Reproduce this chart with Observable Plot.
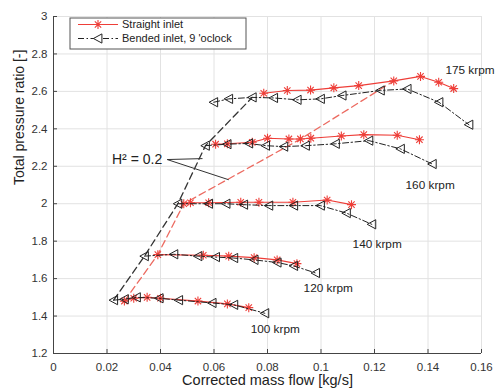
<!DOCTYPE html>
<html>
<head>
<meta charset="utf-8">
<script src="https://cdn.jsdelivr.net/npm/d3@7"></script>
<script src="https://cdn.jsdelivr.net/npm/@observablehq/plot@0.6"></script>
<style>
  html, body { margin: 0; padding: 0; background: #fff; }
  #chart { width: 495px; height: 392px; }
</style>
</head>
<body>
<div id="chart"></div>
<script>
// ---- data ----
const speeds = ["100 krpm", "120 krpm", "140 krpm", "160 krpm", "175 krpm"];

const straightFlow = [
  [0.0265, 0.030, 0.035, 0.040, 0.054, 0.065, 0.073],
  [0.039, 0.056, 0.0655, 0.075, 0.0836, 0.091],
  [0.0487, 0.0512, 0.058, 0.070, 0.0768, 0.0895, 0.1023, 0.1114],
  [0.0606, 0.065, 0.0743, 0.080, 0.088, 0.0923, 0.0962, 0.1076, 0.116, 0.1285, 0.1368],
  [0.0786, 0.0874, 0.0961, 0.1048, 0.1141, 0.1272, 0.1372, 0.144, 0.1496]
];
const straightPR = [
  [1.48, 1.495, 1.50, 1.495, 1.48, 1.465, 1.445],
  [1.728, 1.725, 1.72, 1.712, 1.70, 1.68],
  [2.0, 2.005, 2.005, 2.008, 2.008, 2.008, 2.02, 1.995],
  [2.318, 2.32, 2.328, 2.35, 2.346, 2.346, 2.35, 2.362, 2.369, 2.366, 2.342],
  [2.59, 2.605, 2.607, 2.619, 2.631, 2.656, 2.68, 2.649, 2.615]
];

const bendedFlow = [
  [0.0225, 0.0265, 0.031, 0.0395, 0.0468, 0.0593, 0.0674, 0.079],
  [0.034, 0.045, 0.054, 0.0606, 0.0674, 0.075, 0.0836, 0.0898, 0.098],
  [0.0465, 0.058, 0.0645, 0.0711, 0.0805, 0.0898, 0.0998, 0.1095, 0.119],
  [0.0568, 0.0649, 0.073, 0.0793, 0.0861, 0.0942, 0.1054, 0.1179, 0.1297, 0.1416],
  [0.0599, 0.0655, 0.0743, 0.0823, 0.0911, 0.0998, 0.1079, 0.1222, 0.1322, 0.1441, 0.1553]
];
const bendedPR = [
  [1.485, 1.49, 1.50, 1.495, 1.485, 1.47, 1.46, 1.415],
  [1.72, 1.73, 1.72, 1.715, 1.71, 1.70, 1.686, 1.668, 1.63],
  [2.0, 2.0, 2.0, 1.995, 1.99, 1.99, 1.99, 1.95, 1.89],
  [2.31, 2.318, 2.322, 2.31, 2.305, 2.31, 2.32, 2.337, 2.293, 2.212],
  [2.542, 2.56, 2.568, 2.565, 2.555, 2.56, 2.578, 2.605, 2.613, 2.542, 2.422]
];

// surge lines
const surgeStraightFlow = [0.0265, 0.039, 0.0487, 0.0923, 0.1272];
const surgeStraightPR   = [1.48, 1.728, 2.0, 2.345, 2.656];
const surgeBendedFlow   = [0.0225, 0.034, 0.0465, 0.0568, 0.0743];
const surgeBendedPR     = [1.485, 1.72, 2.0, 2.31, 2.568];

// speed label anchors (data coords)
const labelFlow = [0.0737, 0.0935, 0.1118, 0.1316, 0.1465];
const labelPR   = [1.332, 1.551, 1.786, 2.10, 2.711];

// H^2 annotation
const annotText = "H² = 0.2";
const annotFrom = [0.0425, 2.236];
const annotToFlow = [0.0557, 0.0655];
const annotToPR   = [2.241, 2.128];

const xTicks = [0, 0.02, 0.04, 0.06, 0.08, 0.1, 0.12, 0.14, 0.16];
const yTicks = [1.2, 1.4, 1.6, 1.8, 2, 2.2, 2.4, 2.6, 2.8, 3];
const xTickLabels = ["0", "0.02", "0.04", "0.06", "0.08", "0.1", "0.12", "0.14", "0.16"];
const yTickLabels = ["1.2", "1.4", "1.6", "1.8", "2", "2.2", "2.4", "2.6", "2.8", "3"];

const legendLabels = ["Straight inlet", "Bended inlet, 9 'oclock"];

// ---- build rows ----
function rows(flows, prs) {
  const out = [];
  flows.forEach((fs, i) => fs.forEach((f, j) => out.push({speed: speeds[i], flow: f, pr: prs[i][j]})));
  return out;
}
const straightRows = rows(straightFlow, straightPR);
const bendedRows = rows(bendedFlow, bendedPR);
const surgeS = surgeStraightFlow.map((f, i) => ({flow: f, pr: surgeStraightPR[i]}));
const surgeB = surgeBendedFlow.map((f, i) => ({flow: f, pr: surgeBendedPR[i]}));
const labels = speeds.map((s, i) => ({text: s, flow: labelFlow[i], pr: labelPR[i]}));
const annotLinks = annotToFlow.map((f, i) => ({x1: annotFrom[0], y1: annotFrom[1], x2: f, y2: annotToPR[i]}));

// ---- custom symbols ----
const triLeft = {
  draw(ctx, size) {
    const r = Math.sqrt(size / Math.PI);
    ctx.moveTo(-r, 0);
    ctx.lineTo(r * 0.85, -r);
    ctx.lineTo(r * 0.85, r);
    ctx.closePath();
  }
};
const star8 = {
  draw(ctx, size) {
    const r = Math.sqrt(size / Math.PI);
    for (let k = 0; k < 4; k++) {
      const a = k * Math.PI / 4;
      ctx.moveTo(r * Math.cos(a), r * Math.sin(a));
      ctx.lineTo(-r * Math.cos(a), -r * Math.sin(a));
    }
  }
};

const RED = "#ee3e38";
const RED_LIGHT = "#ec6a60";
const BLACK = "#222";
const TXT = "#333";

const yPerPx = (3 - 1.2) / (392 - 16 - 39);
const xTickLen = 4 * yPerPx;
const xPerPx = 0.16 / (495 - 53 - 14);
const yTickLen = 4 * xPerPx;

const plot = Plot.plot({
  width: 495,
  height: 392,
  marginLeft: 53,
  marginRight: 14,
  marginTop: 16,
  marginBottom: 39,
  x: {domain: [0, 0.16]},
  y: {domain: [1.2, 3]},
  style: {fontFamily: "'Liberation Sans', Arial, Helvetica, sans-serif", fontSize: "11px", background: "#fff", color: TXT},
  marks: [
    Plot.gridX(xTicks, {stroke: "#e2e2e2", strokeOpacity: 1}),
    Plot.gridY(yTicks, {stroke: "#e2e2e2", strokeOpacity: 1}),
    Plot.ruleY([1.2], {stroke: "#444"}),
    Plot.ruleX([0], {stroke: "#444"}),
    Plot.ruleX(xTicks, {x: d => d, y1: 1.2, y2: 1.2 + xTickLen, stroke: "#444"}),
    Plot.ruleY(yTicks, {y: d => d, x1: 0, x2: yTickLen, stroke: "#444"}),
    Plot.axisX(xTicks, {tickSize: 0, tickPadding: 9, tickFormat: (d, i) => xTickLabels[i], fill: TXT, fontSize: 11.5,
      label: null}),
    Plot.axisY(yTicks, {tickSize: 0, tickPadding: 6, tickFormat: (d, i) => yTickLabels[i], fill: TXT, fontSize: 11.5,
      label: null}),
    Plot.text(["Corrected mass flow [kg/s]"], {frameAnchor: "bottom", dy: 31, text: d => d, fontSize: 14.5, fill: "#222"}),
    Plot.text(["Total pressure ratio [-]"], {frameAnchor: "left", dx: -34, rotate: -90, text: d => d, fontSize: 14, fill: "#222"}),
    // surge lines
    Plot.line(surgeS, {x: "flow", y: "pr", stroke: RED_LIGHT, strokeWidth: 1.3, strokeDasharray: "7,4"}),
    Plot.line(surgeB, {x: "flow", y: "pr", stroke: "#333", strokeWidth: 1.3, strokeDasharray: "7,4"}),
    // annotation
    Plot.link(annotLinks, {x1: "x1", y1: "y1", x2: "x2", y2: "y2", stroke: "#333", strokeWidth: 1}),
    Plot.text([annotText], {x: annotFrom[0], y: annotFrom[1], text: d => d, textAnchor: "end", dx: -5, fontSize: 14, fill: "#222"}),
    // straight inlet
    Plot.line(straightRows, {x: "flow", y: "pr", z: "speed", stroke: RED, strokeWidth: 1.1}),
    Plot.dot(straightRows, {x: "flow", y: "pr", symbol: star8, r: 4.5, stroke: RED, fill: "none", strokeWidth: 1.1}),
    // bended inlet
    Plot.line(bendedRows, {x: "flow", y: "pr", z: "speed", stroke: BLACK, strokeWidth: 1, strokeDasharray: "6,2.5,1.5,2.5"}),
    Plot.dot(bendedRows, {x: "flow", y: "pr", symbol: triLeft, r: 4.6, stroke: BLACK, fill: "none", strokeWidth: 1}),
    // speed labels
    Plot.text(labels, {x: "flow", y: "pr", text: "text", textAnchor: "start", fontSize: 11.8, fill: "#222", clip: false})
  ]
});

document.getElementById("chart").appendChild(plot);

// ---- legend (inside top-left) ----
const svg = d3.select(plot);
const lg = svg.append("g").attr("font-family", "'Liberation Sans', Arial, sans-serif").attr("font-size", 11)
  .attr("text-anchor", "start");
lg.append("rect").attr("x", 70).attr("y", 18).attr("width", 176).attr("height", 31)
  .attr("fill", "#fff").attr("stroke", "#555").attr("stroke-width", 1);
// entry 1
lg.append("line").attr("x1", 78).attr("x2", 118).attr("y1", 24.5).attr("y2", 24.5).attr("stroke", RED).attr("stroke-width", 1.1);
lg.append("path").attr("transform", "translate(98,24.5)").attr("d", d3.symbol(star8, 4.5 * 4.5 * Math.PI)())
  .attr("stroke", RED).attr("fill", "none").attr("stroke-width", 1.1);
lg.append("text").attr("x", 122).attr("y", 24.5).attr("dy", "0.35em").attr("fill", "#222").text(legendLabels[0]);
// entry 2
lg.append("line").attr("x1", 78).attr("x2", 118).attr("y1", 38.5).attr("y2", 38.5).attr("stroke", BLACK)
  .attr("stroke-width", 1).attr("stroke-dasharray", "6,2.5,1.5,2.5");
lg.append("path").attr("transform", "translate(98,38.5)").attr("d", d3.symbol(triLeft, 4.6 * 4.6 * Math.PI)())
  .attr("stroke", BLACK).attr("fill", "#fff").attr("stroke-width", 1);
lg.append("text").attr("x", 122).attr("y", 38.5).attr("dy", "0.35em").attr("fill", "#222").text(legendLabels[1]);
</script>
</body>
</html>
